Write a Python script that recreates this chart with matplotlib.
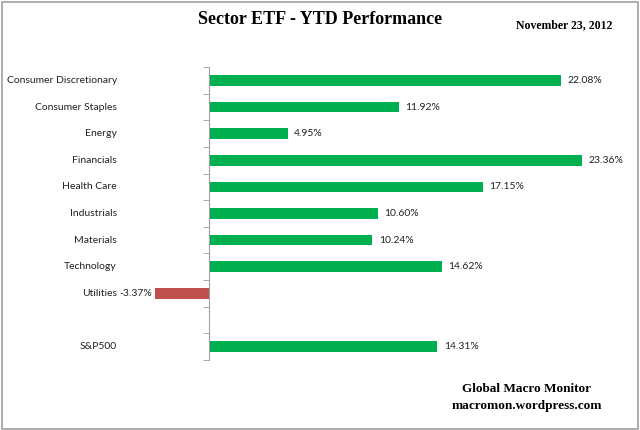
import matplotlib.pyplot as plt
from matplotlib.patches import Rectangle

# data
sectors = ["Consumer Discretionary", "Consumer Staples", "Energy", "Financials",
           "Health Care", "Industrials", "Materials", "Technology", "Utilities", "S&P500"]
ytd = [22.08, 11.92, 4.95, 23.36, 17.15, 10.60, 10.24, 14.62, -3.37, 14.31]
slots = [0, 1, 2, 3, 4, 5, 6, 7, 8, 10]   # gap before S&P500

colors = ["#00B050" if v >= 0 else "#C0504D" for v in ytd]

fig = plt.figure(figsize=(6.4, 4.3), dpi=100)
fig.add_artist(Rectangle((0.003, 0.003), 0.994, 0.993, transform=fig.transFigure,
                         fill=False, edgecolor="#a0a0a0", lw=1.2))

ax = fig.add_axes([129/640, 0.163, 479/640, 0.681])
ax.barh(slots, ytd, height=0.4, color=colors)
ax.set_xlim(-5, 25)
ax.set_ylim(10.5, -0.5)

for s in ["top", "right", "bottom"]:
    ax.spines[s].set_visible(False)
ax.spines["left"].set_position(("data", 0))
ax.spines["left"].set_color("#a0a0a0")
ax.set_xticks([])
ax.set_yticks(slots)
ax.set_yticklabels([])
ax.tick_params(axis="y", which="major", length=0)
ax.set_yticks([i + 0.5 for i in range(-1, 11)], minor=True)
ax.tick_params(axis="y", which="minor", length=4, color="#a0a0a0", direction="out")

lab_font = dict(family=["Lato", "DejaVu Sans"], fontsize=7.5, color="#222222")
tr = ax.get_yaxis_transform()
for name, s in zip(sectors, slots):
    ax.text(-0.025, s, name, transform=tr, ha="right", va="center", **lab_font)

for v, s in zip(ytd, slots):
    if v >= 0:
        ax.text(v + 0.4, s, f"{v:.2f}%", ha="left", va="center", **lab_font)
    else:
        ax.text(v - 0.2, s, f"{v:.2f}%", ha="right", va="center", **lab_font)

serif = ["Liberation Serif", "DejaVu Serif"]
fig.text(0.5, 1 - 19/430, "Sector ETF - YTD Performance", ha="center", va="center",
         family=serif, fontsize=13, weight="bold")
fig.text(564/640, 1 - 25/430, "November 23, 2012", ha="center", va="center",
         family=serif, fontsize=8.5, weight="bold")
fig.text(527/640, 1 - 389/430, "Global Macro Monitor", ha="center", va="center",
         family=serif, fontsize=9.5, weight="bold")
fig.text(527/640, 1 - 406/430, "macromon.wordpress.com", ha="center", va="center",
         family=serif, fontsize=9.5, weight="bold")

fig.savefig("out.png", dpi=100)
